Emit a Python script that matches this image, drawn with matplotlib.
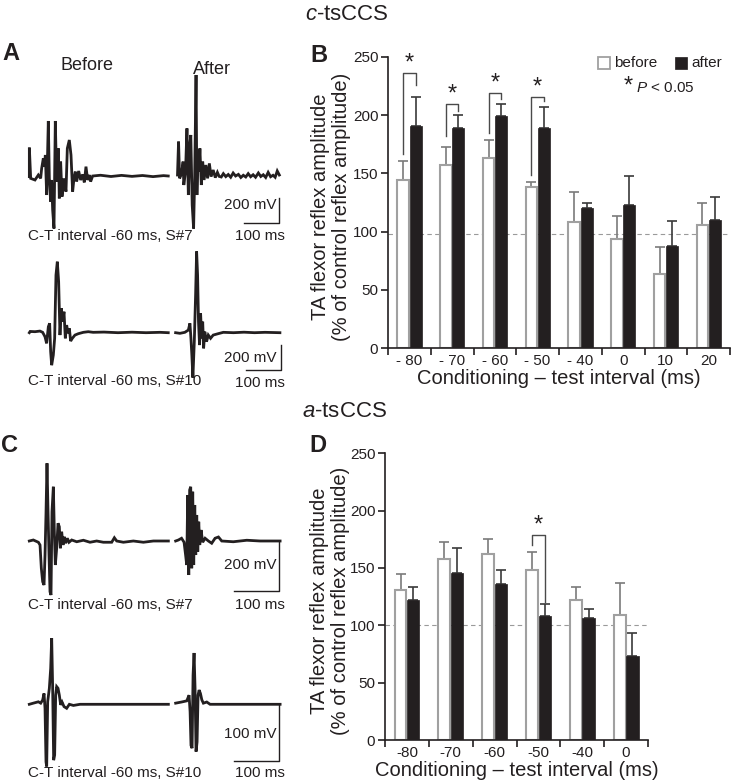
import matplotlib
matplotlib.use("Agg")
import matplotlib.pyplot as plt
from matplotlib.patches import Rectangle

plt.rcParams["font.family"] = ["Liberation Sans", "DejaVu Sans"]
plt.rcParams["mathtext.fontset"] = "custom"
plt.rcParams["mathtext.rm"] = "Liberation Sans"
plt.rcParams["mathtext.it"] = "Liberation Sans:italic"

# ---- EMG traces (ms, mV) ----
a1_before_t = [26.7, 26.7, 30.5, 42.8, 52.4, 59, 61.9, 66.6, 69.5, 72.4, 76.2, 80.9, 83.8, 87.6, 90.4, 93.3,
               97.1, 100.9, 104.7, 109.5, 112.3, 116.1, 120, 125.7, 131.4, 135.2, 140.9, 145.7, 150.4, 154.2,
               158, 161.8, 167.6, 173.3, 179, 183.7, 188.5, 193.3, 198, 201.8, 207.5, 230, 260, 290, 320, 350,
               380, 410, 423.6]
a1_before_v = [-5, 227, -19, -32, 8, -19, 61, 141, 75, 168, -152, 440, -19, -205, -32, -272, -420, 440, -45, 221,
               -179, 115, -165, -19, -125, 221, 288, 168, -125, -19, 35, -45, 40, -32, 13, -51, 75, -32, 8, -45,
               0, 6, -4, 5, -3, 4, -5, 3, 0]
a1_after_t = [450, 453, 456, 461, 466, 468, 473, 477, 481, 485, 488, 492, 496, 499, 503, 505.5, 508, 511, 514,
              518, 522, 526, 531, 536, 541, 546, 552, 558, 564, 569, 575, 581, 588, 595, 602, 609, 616, 624, 631,
              638, 645, 652, 659, 666, 673, 681, 688, 695, 702, 709, 716, 723, 729, 735, 741]
a1_after_v = [8, 275, -19, 13, 115, -72, 40, 381, -152, 248, 328, -232, -420, -19, 808, -152, 115, 35, 221, -72,
              115, -32, 88, -19, 101, -5, 48, -13, 29, -3, -8, 19, -5, 12, -10, 24, 0, 13, -12, 6, -8, 19, -6, 10,
              -10, 24, -4, 10, -12, 29, -6, 6, -10, 40, 8]

a2_before_t = [26.7, 29, 42.8, 57, 64.7, 71.4, 76, 81, 84.7, 87.6, 90.5, 95.2, 99, 102.8, 106.6, 110.4, 114.2,
               118, 121.9, 125.7, 129.5, 133.3, 137, 141, 144.7, 149.5, 157, 166.6, 181, 195, 209, 240, 280, 320,
               360, 400, 423.6]
a2_before_v = [0, 10, 8, 13, 3, -32, -85, 48, 75, -152, -260, -179, -45, 461, 568, 408, -19, 195, 88, 168, -45,
               61, -5, 35, -67, -45, -19, -8, 3, 8, 3, 5, 0, 4, 0, 3, 0]
a2_after_t = [444.6, 457, 471, 481, 485.5, 488.4, 491, 494, 498, 501.7, 504.6, 507.4, 510, 513, 516, 519, 522,
              524.6, 528, 533, 538, 544.5, 552, 566, 581, 610, 640, 670, 700, 742.6]
a2_after_v = [0, -5, 3, 21, 75, -45, -179, -360, -72, 301, 650, 461, 88, -99, 155, -45, 88, -125, 8, -72, -19,
              -45, -19, -8, 3, 0, 4, 0, 3, 0]

c1_before_t = [20.7, 29.6, 40.8, 44.5, 47.4, 50.4, 53.4, 55.6, 57.8, 60, 62.2, 64.5, 66.7, 68.9, 71.1, 74.1,
               76.3, 78.5, 81.5, 84.5, 87.4, 89.7, 92.6, 95.6, 98.5, 101.5, 105.2, 108.9, 114.9, 126, 140.8, 155.6,
               170.4, 185.2, 203.8, 209.7, 214.9, 229.7, 251.9, 274.2, 296.4, 329.7]
c1_before_v = [0, 4, -5, -16, -109, -163, -176, -56, 111, 311, 124, -56, -203, -216, 117, 217, 37, -96, -29, 71,
               57, -29, 37, -16, 17, -9, 11, -5, 4, -3, 3, -5, 0, -5, -5, 13, 0, -5, 0, -5, 0, 0]
c1_after_t = [345.9, 352, 359, 364.6, 368, 370.5, 372.7, 375, 377, 379.4, 381.6, 383.8, 386, 388.3, 390.5, 392.7,
              395, 397.2, 399.4, 402.4, 406, 411.3, 418.7, 426, 433.5, 441, 448.3, 474, 504, 533.5, 578]
c1_after_v = [0, 4, 11, -5, -56, -96, 184, -136, 204, 217, -109, 197, -96, 144, -56, 104, -43, 77, -16, 44, -5,
              11, 0, -9, 11, 16, 0, -3, 3, 0, 0]

c2_before_t = [20.7, 29.6, 40.8, 46, 50.4, 53.4, 55.6, 57.8, 59.3, 61.5, 65.2, 68.2, 70.4, 72.6, 74.8, 77, 79.3,
               81.5, 84.5, 87.4, 90.4, 93.4, 97.8, 103.7, 109.7, 118.6, 133.4, 329.7]
c2_before_v = [0, 2, 4.4, 2, 7.6, 19, -7, -101, -109, 4.4, 28, 63, 116, 28, -98, -89, 16, 31, 28, 16, -1, 4, -4,
               -7, 0, -2, 0, 0]
c2_after_t = [345.9, 359, 370.5, 375.7, 378, 380, 382.4, 384.6, 386.8, 389, 391.2, 393.5, 395.7, 398, 401, 404,
              407.5, 415, 422.4, 578]
c2_after_v = [2, 4, 6, 16, -13, -72, -77, 51, 90, 28, -83, -66, 16, 25, 19, 8, 2, 4, 0, 0]

# ---- bar data (% of control) ----
b_labels = ["- 80", "- 70", "- 60", "- 50", "- 40", "0", "10", "20"]
b_before = [144, 157, 163, 138, 108, 94, 64, 106]
b_before_err = [17, 16, 16, 5, 26, 19, 22.5, 19]
b_after = [191, 189, 199, 189, 120, 123, 88, 110]
b_after_err = [25, 11, 11, 18, 5, 25, 21, 19.5]
b_sig = [0, 1, 2, 3]
b_sig_left = [167, 182, 185, 148.6]
b_sig_top = [236, 209.6, 219, 216]
b_sig_right = [226, 204, 213.6, 212]
b_ref = 98

d_labels = ["-80", "-70", "-60", "-50", "-40", "0"]
d_before = [131, 158, 162, 148.5, 122, 109]
d_before_err = [14, 15, 13.5, 15, 11, 28]
d_after = [122, 146, 136, 108, 106, 73]
d_after_err = [11, 21, 12, 11, 8.5, 20]
d_sig = [3]
d_sig_left = [170]
d_sig_top = [178.7]
d_sig_right = [120.6]
d_ref = 100

W, H = 733, 784
fig = plt.figure(figsize=(W / 100, H / 100), dpi=100)
INK = "#231f20"
GREY = "#a0a0a0"


def ftext(px, py, s, **kw):
    return fig.text(px / W, 1 - py / H, s, **kw)


def trace_axes(l, r, t, b, ms_per_px, base_py, mv_per_px, x0=20):
    ax = fig.add_axes([l / W, 1 - b / H, (r - l) / W, (b - t) / H])
    ax.set_xlim((l - x0) * ms_per_px, (r - x0) * ms_per_px)
    ax.set_ylim((base_py - b) * mv_per_px, (base_py - t) * mv_per_px)
    ax.axis("off")
    return ax


def draw_traces(ax, tb, vb, ta, va, bar_x, bar_top, bar_bot):
    ax.plot(tb, vb, color=INK, lw=2.0, solid_joinstyle="miter", clip_on=False)
    ax.plot(ta, va, color=INK, lw=2.0, solid_joinstyle="miter", clip_on=False)
    ax.plot([bar_x - 100, bar_x, bar_x], [bar_bot, bar_bot, bar_top], color=INK, lw=1.0)


# A top / bottom
ax = trace_axes(20, 300, 60, 240, 100 / 35, 176, 8)
draw_traces(ax, a1_before_t, a1_before_v, a1_after_t, a1_after_v, 740, -176, -376)
ax = trace_axes(20, 300, 240, 395, 100 / 35, 332.7, 8)
draw_traces(ax, a2_before_t, a2_before_v, a2_after_t, a2_after_v, 746, -100, -300)
# C top / bottom
ax = trace_axes(20, 300, 455, 600, 100 / 45, 541, 4)
draw_traces(ax, c1_before_t, c1_before_v, c1_after_t, c1_after_v, 575.6, 0, -200)
ax = trace_axes(20, 300, 620, 780, 100 / 45, 704.3, 1.754)
draw_traces(ax, c2_before_t, c2_before_v, c2_after_t, c2_after_v, 575.6, 0, -100)

tk = dict(fontsize=11, color=INK)
ftext(87, 66, "Before", ha="center", va="center", fontsize=13, color=INK)
ftext(212, 69, "After", ha="center", va="center", fontsize=13, color=INK)
ftext(276, 205, "200 mV", ha="right", va="center", **tk)
ftext(28, 236, "C-T interval -60 ms, S#7", ha="left", va="center", **tk)
ftext(260, 236, "100 ms", ha="center", va="center", **tk)
ftext(276, 358, "200 mV", ha="right", va="center", **tk)
ftext(28, 381, "C-T interval -60 ms, S#10", ha="left", va="center", **tk)
ftext(260, 383, "100 ms", ha="center", va="center", **tk)
ftext(276, 565, "200 mV", ha="right", va="center", **tk)
ftext(28, 605, "C-T interval -60 ms, S#7", ha="left", va="center", **tk)
ftext(260, 605, "100 ms", ha="center", va="center", **tk)
ftext(276, 734, "100 mV", ha="right", va="center", **tk)
ftext(28, 773, "C-T interval -60 ms, S#10", ha="left", va="center", **tk)
ftext(260, 773, "100 ms", ha="center", va="center", **tk)

for lab, px, py in [("A", 11, 54), ("B", 319, 56), ("C", 10, 446), ("D", 318, 446)]:
    ftext(px, py, lab, ha="center", va="center", fontsize=17, fontweight="bold", color=INK)
ftext(347, 14, "$c$-tsCCS", ha="center", va="center", fontsize=16, color=INK)
ftext(345, 411, "$a$-tsCCS", ha="center", va="center", fontsize=16, color=INK)


def bar_panel(rect, labels, before, before_err, after, after_err, sig, sig_l, sig_t, sig_r, ref, ylab_px):
    ax = fig.add_axes(rect)
    n = len(labels)
    xs = [i + 0.5 for i in range(n)]
    xb = [x - 0.145 for x in xs]
    xa = [x + 0.145 for x in xs]
    ax.axhline(ref, color="#9a9a9a", lw=0.8, ls=(0, (4, 3)), zorder=0)
    ax.bar(xb, before, width=0.27, color="white", edgecolor=GREY, linewidth=1.5, zorder=2)
    ax.bar(xa, after, width=0.28, color=INK, edgecolor=INK, linewidth=0.5, zorder=2)
    ax.errorbar(xb, before, yerr=[[0] * n, before_err], fmt="none", ecolor="#7a7a7a", elinewidth=1.2,
                capsize=3.5, capthick=1.2, zorder=1)
    ax.errorbar(xa, after, yerr=[[0] * n, after_err], fmt="none", ecolor="#3a3a3a", elinewidth=1.2,
                capsize=3.5, capthick=1.2, zorder=1)
    for i, yl, yt, yr in zip(sig, sig_l, sig_t, sig_r):
        ax.plot([xb[i], xb[i], xa[i], xa[i]], [yl, yt, yt, yr], color="#4a4a4a", lw=1.0, clip_on=False)
        ax.text(xs[i], yt + 8, "*", ha="center", va="center", fontsize=17, color=INK)
    ax.set_xlim(0, n)
    ax.set_ylim(0, 250)
    for s in ["top", "right"]:
        ax.spines[s].set_visible(False)
    for s in ["left", "bottom"]:
        ax.spines[s].set_linewidth(1.2)
        ax.spines[s].set_color(INK)
    ax.set_yticks(range(0, 251, 50))
    ax.set_xticks(range(n + 1))
    ax.set_xticklabels([])
    ax.set_xticks(xs, minor=True)
    ax.set_xticklabels(labels, minor=True)
    ax.tick_params(axis="both", which="major", direction="out", length=5, width=1.2, color=INK,
                   labelsize=11, labelcolor=INK, pad=2)
    ax.tick_params(axis="x", which="minor", length=0, labelsize=11, labelcolor=INK, pad=4)
    ax.set_xlabel("Conditioning \u2013 test interval (ms)", fontsize=14.5, color=INK, labelpad=1)
    bb = ax.get_position()
    ftext(ylab_px, (1 - (bb.y0 + bb.height / 2)) * H + 4,
          "TA flexor reflex amplitude\n(% of control reflex amplitude)",
          rotation=90, ha="center", va="center", fontsize=14.5, color=INK, linespacing=1.15)
    return ax


bar_panel([388 / W, 1 - 348 / H, 342 / W, 291 / H], b_labels, b_before, b_before_err, b_after, b_after_err,
          b_sig, b_sig_left, b_sig_top, b_sig_right, b_ref, 331)
bar_panel([385 / W, 1 - 740 / H, 263 / W, 286.7 / H], d_labels, d_before, d_before_err, d_after, d_after_err,
          d_sig, d_sig_left, d_sig_top, d_sig_right, d_ref, 330)

# legend of panel B
fig.add_artist(Rectangle((598 / W, 1 - 69 / H), 12 / W, 12 / H, transform=fig.transFigure,
                         facecolor="white", edgecolor=GREY, lw=1.3))
fig.add_artist(Rectangle((675 / W, 1 - 69 / H), 12 / W, 12 / H, transform=fig.transFigure,
                         facecolor=INK, edgecolor=INK, lw=0.5))
ftext(614, 63, "before", ha="left", va="center", fontsize=11, color=INK)
ftext(691, 63, "after", ha="left", va="center", fontsize=11, color=INK)
ftext(633, 87, "*", ha="right", va="center", fontsize=17, color=INK)
ftext(636, 88, "$P$ < 0.05", ha="left", va="center", fontsize=11, color=INK)

fig.savefig("out.png", dpi=100)
